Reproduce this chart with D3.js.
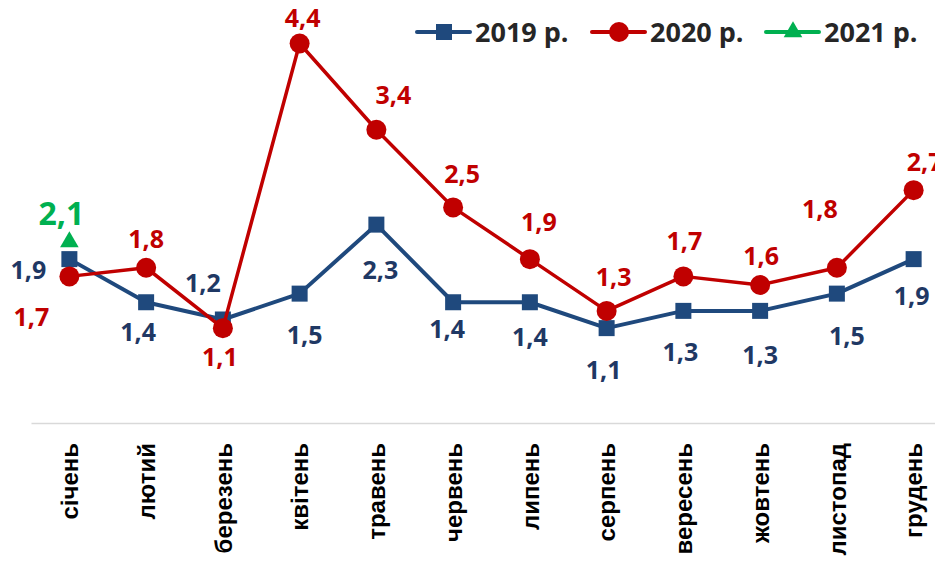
<!DOCTYPE html>
<html>
<head>
<meta charset="utf-8">
<script src="https://cdn.jsdelivr.net/npm/d3@7/dist/d3.min.js"></script>
<style>
  html, body { margin: 0; padding: 0; background: #fff; overflow: hidden; }
  svg { display: block; }
</style>
</head>
<body>
<svg id="chart" width="935" height="566"></svg>
<script>
// ---- data ----
const months = ["січень","лютий","березень","квітень","травень","червень","липень","серпень","вересень","жовтень","листопад","грудень"];
const values2019 = [1.9, 1.4, 1.2, 1.5, 2.3, 1.4, 1.4, 1.1, 1.3, 1.3, 1.5, 1.9];
const values2020 = [1.7, 1.8, 1.1, 4.4, 3.4, 2.5, 1.9, 1.3, 1.7, 1.6, 1.8, 2.7];
const values2021 = [2.1];
const seriesNames = ["2019 р.", "2020 р.", "2021 р."];

// ---- label placement (offsets from point, px) ----
const labelOffsets2019 = [[-41,11],[-8,30],[-20,-37],[5,41],[4,45],[-6,27],[0,35],[-3,42],[-3,41],[0,44],[10,42],[-2,37]];
const labelOffsets2020 = [[-38,41],[0,-29],[-3,29],[3,-26],[17,-35],[9,-33],[9,-37],[7,-34],[1,-35],[1,-29],[-17,-59],[11,-28]];
const labelOffsets2021 = [[-8,-28]];

const fmt = v => String(v.toFixed(1)).replace(".", ",");

const svg = d3.select("#chart");

const x = d3.scaleBand().domain(months).range([31, 952]).padding(0);
const cx = m => x(m) + x.bandwidth() / 2;
const y = d3.scaleLinear().domain([0, 4.4]).range([423, 43.5]);

// axis
const axis = d3.axisBottom(x).tickSize(0).tickSizeOuter(0);
const gAxis = svg.append("g").attr("transform", "translate(0,423)").call(axis);
gAxis.select(".domain").attr("stroke", "#d9d9d9").attr("stroke-width", 1.5);
gAxis.selectAll(".tick text")
  .attr("transform", "rotate(-90)")
  .attr("x", -20).attr("y", 0).attr("dy", "0.36em")
  .attr("text-anchor", "end")
  .style("font-family", "'Liberation Sans', Arial, sans-serif")
  .style("font-weight", "bold")
  .style("font-size", "24px")
  .attr("fill", "#000");

const series = [
  { name: seriesNames[0], values: values2019, color: "#1f497d", labelColor: "#1f3864", marker: "square", offsets: labelOffsets2019, width: 4, fontSize: 25 },
  { name: seriesNames[1], values: values2020, color: "#c00000", labelColor: "#c00000", marker: "circle", offsets: labelOffsets2020, width: 3.5, fontSize: 25 },
  { name: seriesNames[2], values: values2021, color: "#00b050", labelColor: "#00b050", marker: "triangle", offsets: labelOffsets2021, width: 4, fontSize: 32 }
];

function drawMarker(g, type, color) {
  if (type === "square") {
    g.append("rect").attr("x", -8).attr("y", -8).attr("width", 16).attr("height", 16).attr("fill", color);
  } else if (type === "circle") {
    g.append("circle").attr("r", 10).attr("fill", color);
  } else {
    g.append("path").attr("d", d3.symbol(d3.symbolTriangle, 150)()).attr("fill", color);
  }
}

const line = d3.line().x(d => cx(d.m)).y(d => y(d.v));

series.forEach(s => {
  const pts = s.values.map((v, i) => ({ m: months[i], v, i }));
  if (pts.length > 1) {
    svg.append("path").datum(pts).attr("d", line)
      .attr("fill", "none").attr("stroke", s.color).attr("stroke-width", s.width)
      .attr("stroke-linejoin", "round");
  }
  pts.forEach(p => {
    const g = svg.append("g").attr("transform", `translate(${cx(p.m)},${y(p.v)})`);
    drawMarker(g, s.marker, s.color);
  });
});

// labels drawn after all markers
series.forEach(s => {
  s.values.forEach((v, i) => {
    const off = s.offsets[i];
    svg.append("text")
      .attr("x", cx(months[i]) + off[0])
      .attr("y", y(v) + off[1])
      .attr("dy", "0.36em")
      .attr("text-anchor", "middle")
      .style("font-family", "'Open Sans', sans-serif")
      .style("font-weight", "bold")
      .style("font-size", s.fontSize + "px")
      .attr("fill", s.labelColor)
      .text(fmt(v));
  });
});

// legend
const legendX = [417, 592, 766];
series.forEach((s, i) => {
  const g = svg.append("g").attr("transform", `translate(${legendX[i]},32)`);
  g.append("line").attr("x1", 0).attr("x2", 53).attr("y1", 0).attr("y2", 0)
    .attr("stroke", s.color).attr("stroke-width", 4).attr("stroke-linecap", "round");
  const m = g.append("g").attr("transform", "translate(27,0)");
  drawMarker(m, s.marker, s.color);
  g.append("text").attr("x", 58).attr("y", 10)
    .style("font-family", "'Open Sans', sans-serif")
    .style("font-weight", "bold")
    .style("font-size", "27px")
    .attr("fill", "#262626")
    .text(s.name);
});
</script>
</body>
</html>
